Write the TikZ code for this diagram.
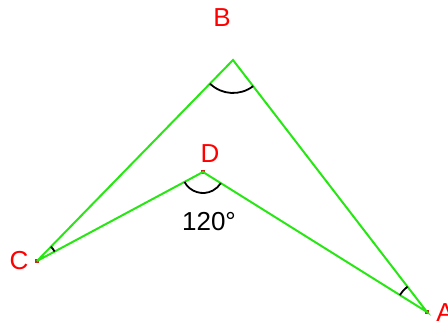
\documentclass[tikz,border=0pt]{standalone}
\usepackage{fontspec}
\setmainfont{Liberation Sans}
\begin{document}
\begin{tikzpicture}[x=1pt,y=1pt,
  edge/.style={draw={rgb,255:red,40;green,230;blue,20}, line width=2pt},
  angarc/.style={draw=black, line width=1.8pt},
  lbl/.style={text=red, font=\fontsize{26}{26}\selectfont, inner sep=0pt},
  dot/.style={fill={rgb,255:red,200;green,40;blue,30}, minimum size=4pt, inner sep=0pt}]
\useasboundingbox (0,0) rectangle (448,-324);
\coordinate (B) at (233,-60);
\node[dot] (C) at (37,-261) {};
\node[dot] (D) at (203,-172) {};
\node[dot] (A) at (427,-312) {};
\draw[edge] (C.center) -- (B) -- (A.center) -- (D.center) -- (C.center);
\draw[angarc] (B) ++(225.7:33) arc[start angle=225.7, end angle=307.6, radius=33];
\draw[angarc] (D.center) ++(208.2:21) arc[start angle=208.2, end angle=328, radius=21];
\draw[angarc] (C.center) ++(28.2:20) arc[start angle=28.2, end angle=45.7, radius=20];
\draw[angarc] (A.center) ++(127.6:32) arc[start angle=127.6, end angle=148, radius=32];
\node[lbl] (lB) at (222,-18) {B};
\node[lbl] (lD) at (210,-154) {D};
\node[lbl] (lC) at (19,-261) {C};
\node[lbl] (lA) at (445,-313) {A};
\node[inner sep=0pt, font=\fontsize{26}{26}\selectfont] (ang) at (209,-222) {120°};
\end{tikzpicture}
\end{document}
